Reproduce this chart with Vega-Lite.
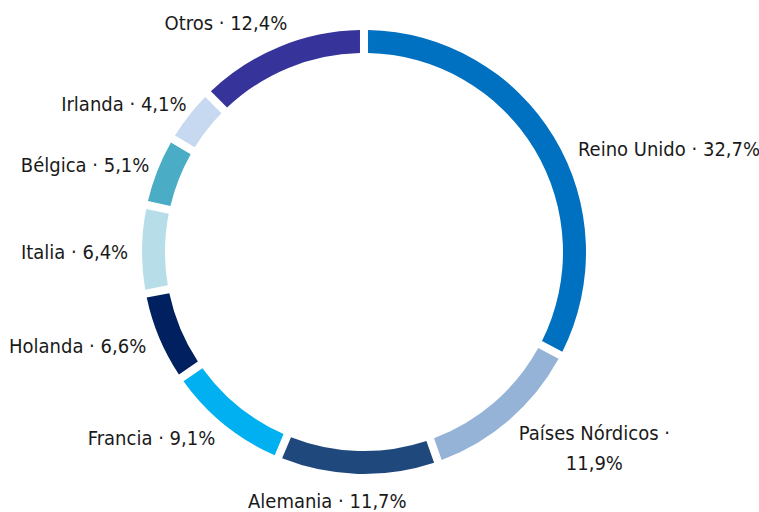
{
  "$schema": "https://vega.github.io/schema/vega-lite/v6.json",
  "width": 718,
  "height": 494,
  "padding": 5,
  "background": "white",
  "view": {"stroke": null},
  "data": {
    "values": [
      {"idx": 1, "pais": "Reino Unido", "value": 32.7, "label": "Reino Unido · 32,7%"},
      {"idx": 2, "pais": "Países Nórdicos", "value": 11.9, "label": "Países Nórdicos ·\n11,9%"},
      {"idx": 3, "pais": "Alemania", "value": 11.7, "label": "Alemania · 11,7%"},
      {"idx": 4, "pais": "Francia", "value": 9.1, "label": "Francia · 9,1%"},
      {"idx": 5, "pais": "Holanda", "value": 6.6, "label": "Holanda · 6,6%"},
      {"idx": 6, "pais": "Italia", "value": 6.4, "label": "Italia · 6,4%"},
      {"idx": 7, "pais": "Bélgica", "value": 5.1, "label": "Bélgica · 5,1%"},
      {"idx": 8, "pais": "Irlanda", "value": 4.1, "label": "Irlanda · 4,1%"},
      {"idx": 9, "pais": "Otros", "value": 12.4, "label": "Otros · 12,4%"}
    ]
  },
  "encoding": {
    "theta": {"field": "value", "type": "quantitative", "stack": true},
    "order": {"field": "idx", "type": "quantitative", "sort": "ascending"}
  },
  "layer": [
    {
      "mark": {"type": "arc", "outerRadius": 222, "innerRadius": 199, "padAngle": 0.027},
      "encoding": {
        "color": {
          "field": "pais",
          "type": "nominal",
          "legend": null,
          "scale": {
            "domain": ["Reino Unido", "Países Nórdicos", "Alemania", "Francia", "Holanda", "Italia", "Bélgica", "Irlanda", "Otros"],
            "range": ["#0070C0", "#95B3D7", "#1F497D", "#00B0F0", "#002060", "#B7DEE8", "#4BACC6", "#C6D9F1", "#36339A"]
          }
        }
      }
    },
    {
      "mark": {
        "type": "text",
        "radius": 236,
        "font": "DejaVu Sans Condensed, sans-serif",
        "fontSize": 20,
        "color": "#1a1a1a",
        "lineBreak": "\n",
        "lineHeight": 30,
        "align": {"expr": "(sin(PI*(datum.value_start+datum.value_end)/100) > 0.3 && cos(PI*(datum.value_start+datum.value_end)/100) < -0.5) ? 'center' : (sin(PI*(datum.value_start+datum.value_end)/100) > 0.3 ? 'left' : (sin(PI*(datum.value_start+datum.value_end)/100) < -0.3 ? 'right' : 'center'))"},
        "baseline": {"expr": "cos(PI*(datum.value_start+datum.value_end)/100) > 0.85 ? 'bottom' : (cos(PI*(datum.value_start+datum.value_end)/100) < -0.85 ? 'top' : 'middle')"},
        "dx": {"expr": "(sin(PI*(datum.value_start+datum.value_end)/100) > 0.3 && cos(PI*(datum.value_start+datum.value_end)/100) < -0.5) ? 76 : (cos(PI*(datum.value_start+datum.value_end)/100) < -0.85 ? -30 : ((sin(PI*(datum.value_start+datum.value_end)/100) > 0.5 && cos(PI*(datum.value_start+datum.value_end)/100) > 0.3) ? 12 : 14*max(cos(PI*(datum.value_start+datum.value_end)/100), 0)))"},
        "dy": {"expr": "(sin(PI*(datum.value_start+datum.value_end)/100) > 0.5 && cos(PI*(datum.value_start+datum.value_end)/100) > 0.3) ? 20 : (cos(PI*(datum.value_start+datum.value_end)/100) > 0.85 ? 0 : 4 - 10*max(cos(PI*(datum.value_start+datum.value_end)/100), 0))"}
      },
      "encoding": {
        "text": {"field": "label", "type": "nominal"}
      }
    }
  ]
}
